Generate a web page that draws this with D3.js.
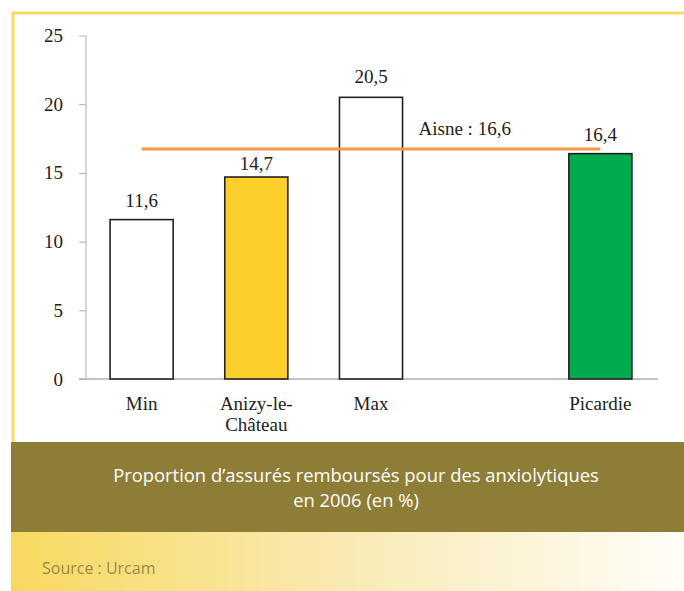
<!DOCTYPE html>
<html>
<head>
<meta charset="utf-8">
<script src="https://cdn.jsdelivr.net/npm/d3@7"></script>
<style>
  body { margin: 0; background: #fff; }
  svg { display: block; }
</style>
</head>
<body>
<div id="canvas"></div>
<script>
// data
var slots = ['Min', 'Anizy-le-Château', 'Max', '', 'Picardie'];
var categories = ['Min', 'Anizy-le-Château', 'Max', 'Picardie'];
var values = [11.6, 14.7, 20.5, 16.4];
var barColors = ['#ffffff', '#fccf2a', '#ffffff', '#00ab4e'];
var labelGap = [13, 7, 14, 13]; // label above bar, 14,7 squeezed under the Aisne line
var aisne = 16.6;
var yTicks = [0, 5, 10, 15, 20, 25];
var title = ['Proportion d\u2019assurés remboursés pour des anxiolytiques', 'en 2006 (en %)'];
var source = 'Source : Urcam';

var W = 684, H = 591;

var svg = d3.select('#canvas')
    .append('svg')
    .attr('width', W)
    .attr('height', H);

var fr = function(v){ return d3.format('.1f')(v).replace('.', ','); };
var serif = '"Liberation Serif", "Times New Roman", serif';

// scales
var x = d3.scaleBand()
    .domain(slots)
    .range([86, 656])
    .paddingInner(0.45)
    .paddingOuter(0.21);

var y = d3.scaleLinear()
    .domain([0, 25])
    .range([379, 35.5]);

// frame (top + left yellow border)
svg.append('line')
    .attr('x1', 12).attr('x2', W)
    .attr('y1', 13).attr('y2', 13)
    .style('stroke', '#f7d964').style('stroke-width', 3);
svg.append('line')
    .attr('x1', 13).attr('x2', 13)
    .attr('y1', 12).attr('y2', 442)
    .style('stroke', '#f7d964').style('stroke-width', 3);

// y axis
var yAxis = svg.append('g')
    .attr('transform', 'translate(86,0)')
    .call(d3.axisLeft(y).tickValues(yTicks).tickSize(7).tickPadding(16).tickFormat(d3.format('d')));
yAxis.select('.domain').style('stroke', '#aab2ba').attr('d', 'M0,' + y(25) + 'V' + y(0));
yAxis.selectAll('.tick line').style('stroke', '#aab2ba');
yAxis.selectAll('.tick text')
    .style('font-family', serif)
    .style('font-size', '19px')
    .style('fill', '#222');

// x axis line
svg.append('line')
    .attr('x1', 79).attr('x2', 658)
    .attr('y1', y(0)).attr('y2', y(0))
    .style('stroke', '#aab2ba').style('stroke-width', 1.5);

// bars
svg.selectAll('.bar')
    .data(categories)
    .enter()
    .append('rect')
      .attr('class', 'bar')
      .attr('x', function(d){ return x(d); })
      .attr('y', function(d, i){ return y(values[i]); })
      .attr('width', x.bandwidth())
      .attr('height', function(d, i){ return y(0) - y(values[i]); })
      .style('fill', function(d, i){ return barColors[i]; })
      .style('stroke', '#222')
      .style('stroke-width', 1.6);

// value labels
svg.selectAll('.val')
    .data(categories)
    .enter()
    .append('text')
      .attr('class', 'val')
      .attr('x', function(d){ return x(d) + x.bandwidth() / 2; })
      .attr('y', function(d, i){ return y(values[i]) - labelGap[i]; })
      .attr('text-anchor', 'middle')
      .style('font-family', serif)
      .style('font-size', '19px')
      .style('fill', '#222')
      .text(function(d, i){ return fr(values[i]); });

// category labels
var cat = svg.selectAll('.cat')
    .data(categories)
    .enter()
    .append('text')
      .attr('class', 'cat')
      .attr('y', 410)
      .attr('text-anchor', 'middle')
      .style('font-family', serif)
      .style('font-size', '19px')
      .style('fill', '#222');
cat.each(function(d){
    var parts = d === 'Anizy-le-Château' ? ['Anizy-le-', 'Château'] : [d];
    var t = d3.select(this);
    parts.forEach(function(p, i){
        t.append('tspan')
            .attr('x', x(d) + x.bandwidth() / 2)
            .attr('dy', i === 0 ? 0 : 21)
            .text(p);
    });
});

// Aisne reference line
svg.append('line')
    .attr('x1', x('Min') + x.bandwidth() / 2)
    .attr('x2', x('Picardie') + x.bandwidth() / 2)
    .attr('y1', y(aisne) - 2).attr('y2', y(aisne) - 2)
    .style('stroke', '#f79646')
    .style('stroke-width', 3);
svg.append('text')
    .attr('x', x('Max') + x.bandwidth() + 16)
    .attr('y', y(aisne) - 16)
    .style('font-family', serif)
    .style('font-size', '19px')
    .style('fill', '#222')
    .text('Aisne : ' + fr(aisne));

// title band
svg.append('rect')
    .attr('x', 11).attr('y', 442)
    .attr('width', W - 11).attr('height', 90)
    .style('fill', '#8e7d37');
svg.selectAll('.title')
    .data(title)
    .enter()
    .append('text')
      .attr('class', 'title')
      .attr('x', 356)
      .attr('y', function(d, i){ return 482 + i * 25; })
      .attr('text-anchor', 'middle')
      .style('font-family', '"Open Sans", sans-serif')
      .style('font-size', '18.4px')
      .style('fill', '#fff')
      .text(function(d){ return d; });

// source band with gradient
var grad = svg.append('defs').append('linearGradient')
    .attr('id', 'srcGrad')
    .attr('x1', '0%').attr('x2', '100%')
    .attr('y1', '0%').attr('y2', '0%');
grad.append('stop').attr('offset', '0%').attr('stop-color', '#f8d960');
grad.append('stop').attr('offset', '50%').attr('stop-color', '#f9eab4');
grad.append('stop').attr('offset', '100%').attr('stop-color', '#fffdf8');

svg.append('rect')
    .attr('x', 11).attr('y', 532)
    .attr('width', W - 11).attr('height', H - 532)
    .style('fill', 'url(#srcGrad)');
svg.append('text')
    .attr('x', 42).attr('y', 574)
    .style('font-family', '"Open Sans", sans-serif')
    .style('font-size', '16px')
    .style('fill', '#9a8a45')
    .text(source);
</script>
</body>
</html>
